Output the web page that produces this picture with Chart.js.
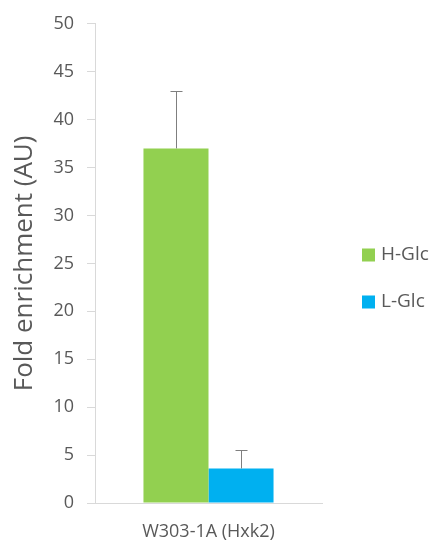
<!DOCTYPE html>
<html>
<head>
<meta charset="utf-8">
<script src="https://cdn.jsdelivr.net/npm/chart.js@4/dist/chart.umd.min.js"></script>
<style>
  html, body { margin: 0; padding: 0; background: #fff; }
  #wrap { width: 435px; height: 545px; }
</style>
</head>
<body>
<div id="wrap"><canvas id="chart"></canvas></div>
<script>
// strain on the x axis, one bar per glucose condition
const categories = ['W303-1A (Hxk2)'];
const seriesNames = ['H-Glc', 'L-Glc'];
const hGlc = [37];
const hGlcErr = [6];
const lGlc = [3.6];
const lGlcErr = [1.9];

const GREEN = '#92d050', BLUE = '#00b0f0';
const AXIS = '#d9d9d9', TEXT = '#595959';
const FONT = '"Open Sans", sans-serif';

// one-sided (upper) error bars with a small cap
const errorBars = {
  id: 'errorBars',
  afterDatasetsDraw(chart) {
    const { ctx, scales: { y } } = chart;
    ctx.save();
    ctx.strokeStyle = '#7f7f7f';
    ctx.lineWidth = 1;
    chart.data.datasets.forEach((ds, i) => {
      chart.getDatasetMeta(i).data.forEach((bar, j) => {
        const top = Math.round(y.getPixelForValue(ds.data[j] + ds.errors[j])) + 0.5;
        const x = Math.round(bar.x) + 0.5;
        ctx.beginPath();
        ctx.moveTo(x, bar.y);
        ctx.lineTo(x, top);
        ctx.moveTo(x - 6, top);
        ctx.lineTo(x + 6, top);
        ctx.stroke();
      });
    });
    ctx.restore();
  }
};

// legend to the right of the plot, square swatches
const sideLegend = {
  id: 'sideLegend',
  afterDraw(chart) {
    const { ctx, chartArea } = chart;
    const x = chartArea.right + 40;
    const y0 = 255;
    ctx.save();
    ctx.font = '19px ' + FONT;
    ctx.textBaseline = 'middle';
    chart.data.datasets.forEach((ds, i) => {
      const cy = y0 + i * 47;
      ctx.fillStyle = ds.backgroundColor;
      ctx.fillRect(x, cy - 6.5, 13, 13);
      ctx.fillStyle = TEXT;
      ctx.fillText(ds.label, x + 19, cy);
    });
    ctx.restore();
  }
};

new Chart(document.getElementById('chart'), {
  type: 'bar',
  data: {
    labels: categories,
    datasets: [
      { label: seriesNames[0], data: hGlc, errors: hGlcErr, backgroundColor: GREEN },
      { label: seriesNames[1], data: lGlc, errors: lGlcErr, backgroundColor: BLUE }
    ]
  },
  options: {
    responsive: true,
    maintainAspectRatio: false,
    animation: false,
    layout: { padding: { top: 20, right: 113, bottom: 0, left: 0 } },
    datasets: { bar: { categoryPercentage: 0.573, barPercentage: 1 } },
    plugins: { legend: { display: false }, tooltip: { enabled: false } },
    scales: {
      x: {
        grid: { drawOnChartArea: false, drawTicks: false },
        border: { color: AXIS },
        ticks: { color: TEXT, font: { family: FONT, size: 18 }, padding: 18 },
        afterFit(s) { s.height = 42; }
      },
      y: {
        min: 0, max: 50,
        grid: { drawOnChartArea: false, color: AXIS, tickLength: 8 },
        border: { color: AXIS },
        ticks: { stepSize: 5, color: TEXT, font: { family: FONT, size: 18 }, padding: 13 },
        title: {
          display: true, text: 'Fold enrichment (AU)', color: TEXT,
          font: { family: FONT, size: 26 }, padding: { top: 9, bottom: 0 }
        },
        afterFit(s) { s.width = 95; }
      }
    }
  },
  plugins: [errorBars, sideLegend]
});
</script>
</body>
</html>
